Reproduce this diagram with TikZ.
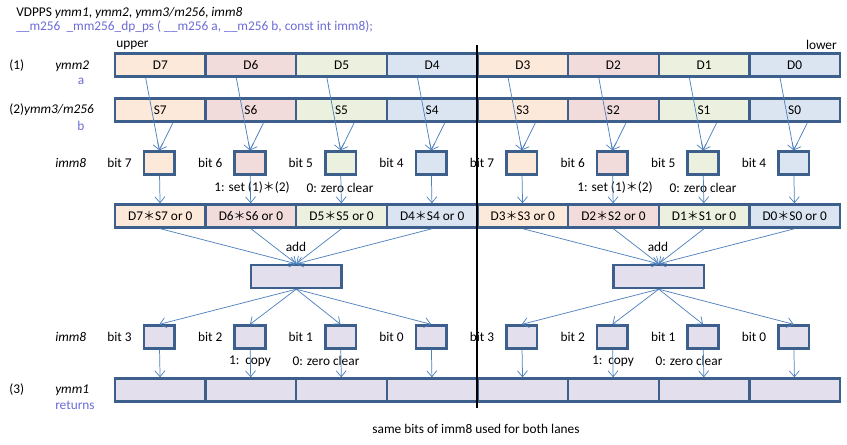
\documentclass[tikz,border=0pt]{standalone}
\usepackage{fontspec}
\setmainfont{Carlito}
\newfontfamily\cjk{Noto Sans CJK JP}
\usetikzlibrary{arrows.meta,positioning}
\definecolor{bordc}{HTML}{3C5F8C}
\definecolor{linec}{HTML}{4F81BD}
\definecolor{protoc}{HTML}{6B6BD6}
\definecolor{c0}{HTML}{FDE9D9}
\definecolor{c1}{HTML}{F2DCDB}
\definecolor{c2}{HTML}{EBF1DE}
\definecolor{c3}{HTML}{DBE5F1}
\definecolor{lav}{HTML}{E4DFEC}
\newcommand{\mulsym}{{\cjk\fontsize{9}{10}\selectfont ＊}}

\begin{document}
\begin{tikzpicture}[x=0.75pt, y=-0.75pt, font=\fontsize{10}{12}\selectfont]
                \tikzset{cell/.style={draw=bordc, line width=1.8pt, minimum width=67.95pt, minimum height=17.25pt, inner sep=0pt},
                         bitbox/.style={draw=bordc, line width=2pt, minimum width=23pt, minimum height=17pt, inner sep=0pt},
                         arr/.style={draw=linec, line width=0.55pt, -{Straight Barb[length=4.5pt,width=7.5pt]}},
                         lbl/.style={inner sep=0pt, anchor=west},
                         blu/.style={text=protoc}};
                \useasboundingbox (0,0) rectangle (847,444);

                \node[lbl] (title) at (16,13) {VDPPS \textit{ymm1},\ \textit{ymm2}, \textit{ymm3/m256}, \textit{imm8}};
                \node[lbl, blu] (proto) at (16,27) {\_\_m256\ \ \_mm256\_dp\_ps\ ( \_\_m256 a, \_\_m256 b, const int imm8);};
                \node[inner sep=0pt, anchor=south west] (upper) at (116,50) {upper};
                \node[inner sep=0pt, anchor=south east] (lower) at (837,50) {lower};

                \node[lbl] (n1) at (9,66) {(1)};
                \node[lbl] (ymmtwo) at (55,66) {\textit{ymm2}};
                \node[blu, inner sep=0pt] (na) at (81,81) {a};
                \node[lbl] (n2) at (9,110) {(2)\textit{ymm3/m256}};
                \node[blu, inner sep=0pt] (nb) at (81,126) {b};
                \node[lbl] (immu) at (55,163) {\textit{imm8}};
                \node[lbl] (imml) at (55,337) {\textit{imm8}};
                \node[lbl] (n3) at (9,390) {(3)};
                \node[lbl] (ymmone) at (55,390) {\textit{ymm1}};
                \node[lbl, blu] (ret) at (55,405) {returns};

                % lanes
                \foreach \k in {0,...,7} {
                    \pgfmathsetmacro{\x}{160.3+90.625*\k}
                    \pgfmathtruncatemacro{\n}{7-\k}
                    \pgfmathtruncatemacro{\m}{mod(\k,4)}
                    \pgfmathtruncatemacro{\hb}{7-\m}
                    \pgfmathtruncatemacro{\lb}{3-\m}
                    \node[cell, fill=c\m] (d\n) at (\x,65) {D\n};
                    \node[cell, fill=c\m] (s\n) at (\x,110) {S\n};
                    \node[bitbox, fill=c\m] (p\k) at (\x-1,163) {};
                    \node[inner sep=0pt, left=8pt of p\k] (pl\k) {bit \hb};
                    \node[cell, fill=c\m] (r\n) at (\x,216) {D\n\mulsym S\n\ or 0};
                    \node[bitbox, fill=lav] (q\k) at (\x-1,337) {};
                    \node[inner sep=0pt, left=8pt of q\k] (ql\k) {bit \lb};
                    \node[cell, fill=lav] (y\k) at (\x,390) {};
                }

                \node[cell, fill=lav] (sumu) at (296.25,276.5) {};
                \node[cell, fill=lav] (suml) at (658.75,276.5) {};
                \node (addu) at (296,247) {add};
                \node (addl) at (658,247) {add};

                \node (setu) at (252,188) {1: set (1)\mulsym(2)};
                \node (zerou) at (340,188) {0: zero clear};
                \node (setl) at (615,188) {1: set (1)\mulsym(2)};
                \node (zerol) at (703,188) {0: zero clear};
                \node (copyu) at (250,361) {1:\ \ copy};
                \node (zcu) at (326,361) {0: zero clear};
                \node (copyl) at (613,361) {1:\ \ copy};
                \node (zcl) at (689,361) {0: zero clear};

                \node (note) at (476,429) {same bits of imm8 used for both lanes};

                % connectors
                \foreach \k in {0,...,7} {
                    \pgfmathtruncatemacro{\n}{7-\k}
                    \pgfmathtruncatemacro{\h}{\k<4 ? 1 : 0}
                    \ifnum\h=1 \def\sm{sumu}\else\def\sm{suml}\fi
                    \draw[arr] ([xshift=-11pt]d\n.south) -- (p\k.north);
                    \draw[arr] ([xshift=9.5pt]s\n.south) -- (p\k.north);
                    \draw[arr] (p\k) -- (r\n);
                    \draw[arr] (r\n.south) -- (\sm.north);
                    \draw[arr] (\sm.south) -- (q\k.north);
                    \draw[arr] (q\k) -- (y\k);
                }

                \coordinate (midtop) at (477,45);
                \coordinate (midbot) at (477,408);
                \draw[line width=1.3pt] (midtop) -- (midbot);
\end{tikzpicture}
\end{document}
